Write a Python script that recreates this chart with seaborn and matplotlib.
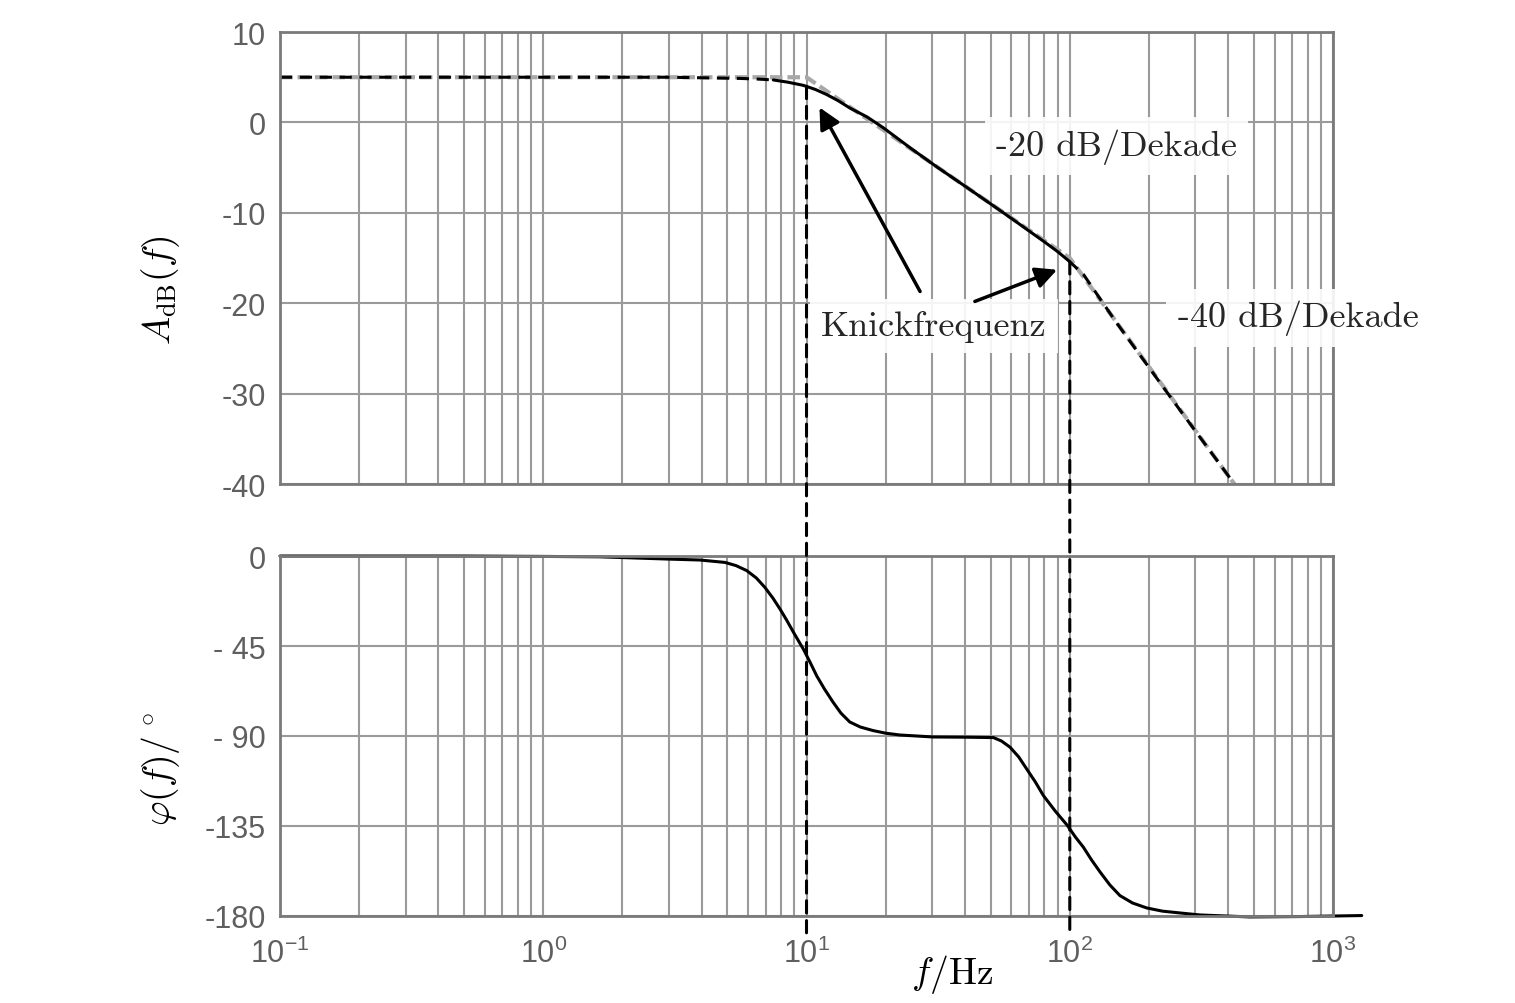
import numpy as np
import pandas as pd
import matplotlib
matplotlib.use("Agg")
import matplotlib.pyplot as plt
import seaborn as sns
from matplotlib.patches import ConnectionPatch
from matplotlib.transforms import blended_transform_factory
from matplotlib.ticker import FixedLocator, FixedFormatter, LogLocator, NullFormatter

# ---------------- data ----------------
f_amp = [0.1, 1, 3, 5.58, 6.5, 7.48, 8.5, 9.73, 10.8, 11.9, 13.2, 14.6, 17, 19.6, 25, 31.2,
         40, 50, 63, 80, 90, 99, 112.6, 150, 250, 422]
amp_db = [5, 5, 5, 4.87, 4.8, 4.7, 4.45, 4.1, 3.65, 3.1, 2.4, 1.6, 0.6, -0.6, -2.9, -4.9,
          -7.05, -9.0, -11.05, -13.2, -14.3, -15.3, -16.8, -22.1, -31, -40]

f_asym = [0.1, 10, 100, 421.7]
amp_asym = [5, 5, -15, -40]

f_phase = [0.1, 0.5, 1.0, 1.64, 2.94, 3.94, 4.9, 5.4, 5.93, 6.45, 6.95, 7.45, 7.93, 8.4, 8.91,
           9.77, 10.35, 10.94, 11.7, 12.6, 13.5, 14.6, 16, 17.9, 20, 22.6, 30.3, 40, 51.3, 55,
           59.3, 64, 68.6, 74, 79.4, 88, 98, 105, 112.6, 121, 130.3, 142, 155, 173, 196, 225,
           262, 312, 484, 750, 1285]
phase_deg = [0, 0, -0.2, -0.4, -1.5, -2.0, -3.2, -4.8, -7.3, -11, -15.7, -21, -26.5, -32, -38,
             -47, -53.5, -60, -66.5, -73, -78.5, -83, -85.5, -87.3, -88.6, -89.5, -90.5, -90.6, -90.8, -92.5,
             -95.6, -100.5, -106.5, -113, -119.8, -127.5, -134.8, -140.5, -145.6, -152, -158, -164.5, -169.8, -173.5, -176, -177.6,
             -178.5, -179.5, -180.5, -180.3, -179.8]

knee_freqs = [10, 100]

amp_ticks = [10, 0, -10, -20, -30, -40]
amp_ticklabels = ["10", "0", "-10", "-20", "-30", "-40"]
phase_ticks = [0, -45, -90, -135, -180]
phase_ticklabels = ["0", "- 45", "- 90", "-135", "-180"]
x_ticks = [0.1, 1, 10, 100, 1000]
x_ticklabels = [r"$10^{-1}$", r"$10^{0}$", r"$10^{1}$", r"$10^{2}$", r"$10^{3}$"]

label_slope1 = "-20 dB/Dekade"
label_slope2 = "-40 dB/Dekade"
label_knick = "Knickfrequenz"

# ---------------- style ----------------
sns.set_theme(style="white")
plt.rcParams["font.family"] = ["Liberation Sans", "DejaVu Sans"]
plt.rcParams["mathtext.fontset"] = "custom"
plt.rcParams["mathtext.rm"] = "Liberation Sans"
plt.rcParams["mathtext.it"] = "Liberation Sans:italic"
plt.rcParams["mathtext.bf"] = "Liberation Sans:bold"

TICK_COLOR = "#5f5f5f"
GRID_COLOR = "#9a9a9a"
SPINE_COLOR = "#7a7a7a"

fig = plt.figure(figsize=(15.15, 10.04), dpi=100)
ax1 = fig.add_axes([0.1848, 0.5169, 0.6951, 0.4502])
ax2 = fig.add_axes([0.1848, 0.0867, 0.6951, 0.3585])

df_amp = pd.DataFrame({"f": f_amp, "A": amp_db})
df_asym = pd.DataFrame({"f": f_asym, "A": amp_asym})
df_ph = pd.DataFrame({"f": f_phase, "phi": phase_deg})

for ax in (ax1, ax2):
    ax.set_xscale("log")
    ax.set_xlim(0.1, 1000)
    ax.xaxis.set_major_locator(FixedLocator(x_ticks))
    ax.xaxis.set_minor_locator(LogLocator(base=10, subs=np.arange(2, 10)))
    ax.xaxis.set_minor_formatter(NullFormatter())
    ax.grid(True, which="major", axis="both", color=GRID_COLOR, lw=1.5)
    ax.grid(True, which="minor", axis="x", color=GRID_COLOR, lw=1.5)
    ax.set_axisbelow(True)
    for s in ax.spines.values():
        s.set_color(SPINE_COLOR)
        s.set_linewidth(2)
    ax.tick_params(which="both", length=0, labelsize=22, colors=TICK_COLOR, pad=10)

# amplitude plot
sns.lineplot(data=df_asym, x="f", y="A", ax=ax1, color="#a8a8a8", lw=3,
             estimator=None, sort=False)
ax1.lines[-1].set_dashes((3, 1.2))
seg1 = df_amp.iloc[0:6]
seg2 = df_amp.iloc[5:22]
seg3 = df_amp.iloc[21:]
for seg, dashed in ((seg1, True), (seg2, False), (seg3, True)):
    sns.lineplot(data=seg, x="f", y="A", ax=ax1, color="black", lw=2.2,
                 estimator=None, sort=False)
    if dashed:
        ax1.lines[-1].set_dashes((4, 2.5))

ax1.set_ylim(-40, 10)
ax1.yaxis.set_major_locator(FixedLocator(amp_ticks))
ax1.yaxis.set_major_formatter(FixedFormatter(amp_ticklabels))
ax1.set_xticklabels([])
ax1.set_xlabel("")
ax1.set_ylabel(r"$A_{\mathrm{dB}}(f)$", fontsize=27, math_fontfamily="cm", color="black")
ax1.yaxis.set_label_coords(-0.093, 0.43)

# phase plot
sns.lineplot(data=df_ph, x="f", y="phi", ax=ax2, color="black", lw=2.2,
             estimator=None, sort=False)
ax2.lines[-1].set_clip_on(False)
ax2.set_ylim(-180, 0)
ax2.yaxis.set_major_locator(FixedLocator(phase_ticks))
ax2.yaxis.set_major_formatter(FixedFormatter(phase_ticklabels))
ax2.xaxis.set_major_formatter(FixedFormatter(x_ticklabels))
ax2.tick_params(axis="x", pad=16)
ax2.set_ylabel(r"$\varphi(f)/^\circ$", fontsize=27, math_fontfamily="cm", color="black")
ax2.yaxis.set_label_coords(-0.093, 0.41)
ax2.set_xlabel(r"$f/\mathrm{Hz}$", fontsize=27, math_fontfamily="cm", color="black")
ax2.xaxis.set_label_coords(0.638, -0.1)

# vertical dashed lines at the knee frequencies
logf = np.log10(f_amp)
for fk in knee_freqs:
    a_top = np.interp(np.log10(fk), logf, amp_db)
    trB = blended_transform_factory(ax2.transData, ax2.transAxes)
    cp = ConnectionPatch(xyA=(fk, a_top), coordsA=ax1.transData,
                         xyB=(fk, -0.05), coordsB=trB,
                         color="black", lw=2.2, linestyle=(0, (4, 2.5)))
    fig.add_artist(cp)

# annotations
box = dict(facecolor="white", edgecolor="none", alpha=0.9, pad=8)
ax1.text(150, -2.65, label_slope1, family="cmr10", fontsize=26, ha="center", va="center",
         bbox=box, zorder=5)
ax1.text(736, -21.6, label_slope2, family="cmr10", fontsize=26, ha="center", va="center",
         bbox=box, zorder=5, clip_on=False)
ax1.text(30.5, -22.5, label_knick, family="cmr10", fontsize=26, ha="center", va="center",
         bbox=box, zorder=5)
arrow = dict(arrowstyle="-|>", color="black", lw=2.5, mutation_scale=32, shrinkA=0, shrinkB=0)
ax1.annotate("", xy=(11.2, 1.66), xytext=(27.0, -18.7), arrowprops=arrow, zorder=6)
ax1.annotate("", xy=(89.5, -16.3), xytext=(43.6, -19.8), arrowprops=arrow, zorder=6)

fig.savefig("out.png", dpi=100)
